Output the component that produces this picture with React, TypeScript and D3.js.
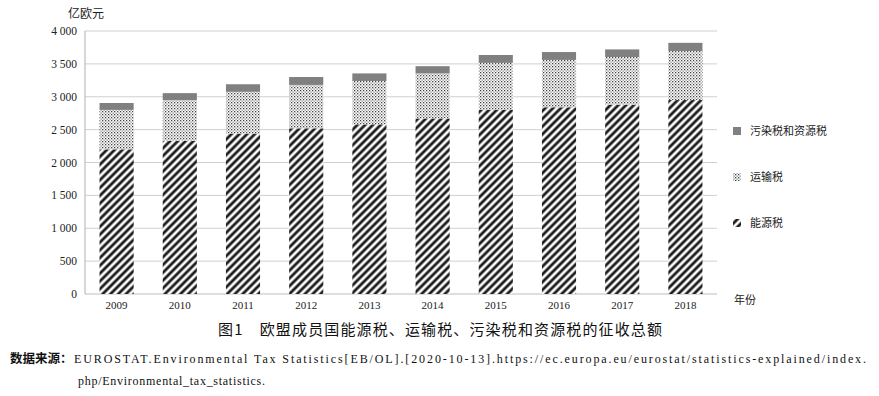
import React from "react";
import * as d3 from "d3";

const years = ["2009","2010","2011","2012","2013","2014","2015","2016","2017","2018"];
const energyTax = [2200, 2330, 2440, 2520, 2580, 2670, 2800, 2840, 2880, 2950];
const transportTax = [600, 620, 635, 660, 660, 685, 715, 720, 725, 745];
const pollutionTax = [105, 105, 115, 120, 115, 110, 120, 120, 115, 125];
const yTicks = [0, 500, 1000, 1500, 2000, 2500, 3000, 3500, 4000];
const seriesNames = ["能源税", "运输税", "污染税和资源税"];

const W = 879, H = 396;
const serif = "'Liberation Serif', 'DejaVu Serif', serif";
const cjk = "'Noto Sans CJK SC', sans-serif";

export default function App() {
  const x = d3.scaleBand<string>().domain(years).range([85, 717]).paddingInner(0.46).paddingOuter(0.23);
  const y = d3.scaleLinear().domain([0, 4000]).range([294, 31]);
  const fmt = (v: number) => (v >= 1000 ? `${Math.floor(v / 1000)} ${String(v % 1000).padStart(3, "0")}` : String(v));
  const rows = years.map((yr, i) => ({ yr, e: energyTax[i], t: transportTax[i], p: pollutionTax[i] }));
  const stack = d3.stack<any>().keys(["e", "t", "p"])(rows);
  const fills = ["url(#hatch)", "url(#dots)", "#808080"];
  const legendY = [223, 177, 131];

  return (
    <svg width={W} height={H} style={{ position: "absolute", left: 0, top: 0, background: "#fff" }}>
      <defs>
        <pattern id="hatch" patternUnits="userSpaceOnUse" width="5.5" height="5.5" patternTransform="rotate(45)">
          <rect width="5.5" height="5.5" fill="#fff" />
          <line x1="0" y1="0" x2="0" y2="5.5" stroke="#1a1a1a" strokeWidth="2.8" />
          <line x1="5.5" y1="0" x2="5.5" y2="5.5" stroke="#1a1a1a" strokeWidth="2.8" />
        </pattern>
        <pattern id="dots" patternUnits="userSpaceOnUse" width="3" height="3">
          <rect width="3" height="3" fill="#fff" />
          <rect x="0" y="0" width="1.3" height="1.3" fill="#444" />
          <rect x="1.5" y="1.5" width="1.3" height="1.3" fill="#888" />
        </pattern>
      </defs>
      <rect width={W} height={H} fill="#fff" />
      <text x={68} y={18} fontFamily={cjk} fontSize={12} fill="#222">亿欧元</text>
      {yTicks.map((t) => (
        <g key={t}>
          {t > 0 && <line x1={85} x2={717} y1={y(t)} y2={y(t)} stroke="#d0d0d0" strokeWidth={1} />}
          <text x={77} y={y(t) + 4} textAnchor="end" fontFamily={serif} fontSize={11.5} fill="#222">{fmt(t)}</text>
        </g>
      ))}
      <line x1={85} x2={85} y1={31} y2={294} stroke="#bdbdbd" strokeWidth={1.2} />
      <line x1={85} x2={717} y1={294} y2={294} stroke="#bdbdbd" strokeWidth={1.2} />
      {stack.map((s, si) => (
        <g key={si}>
          {s.map((d: any, i: number) => (
            <rect key={i} x={x(years[i])} width={x.bandwidth()} y={y(d[1])} height={y(d[0]) - y(d[1])} fill={fills[si]} />
          ))}
        </g>
      ))}
      {years.map((yr) => (
        <text key={yr} x={(x(yr) as number) + x.bandwidth() / 2} y={309} textAnchor="middle" fontFamily={serif} fontSize={11} fill="#222">{yr}</text>
      ))}
      {seriesNames.map((n, i) => (
        <g key={n}>
          <rect x={733} y={legendY[i] - 4} width={8} height={8} fill={fills[i]} />
          <text x={750} y={legendY[i] + 4} fontFamily={cjk} fontSize={11} fill="#222">{n}</text>
        </g>
      ))}
      <text x={734} y={304} fontFamily={cjk} fontSize={11} fill="#222">年份</text>
      <text x={218} y={335} fontFamily={cjk} fontSize={15} fill="#111" textLength={444} lengthAdjust="spacing">图1　欧盟成员国能源税、运输税、污染税和资源税的征收总额</text>
      <text x={10} y={363} fontFamily={cjk} fontSize={12.5} fontWeight="bold" fill="#111">数据来源：</text>
      <text x={74} y={363} fontFamily={serif} fontSize={12} fill="#111" textLength={792} lengthAdjust="spacing">EUROSTAT.Environmental Tax Statistics[EB/OL].[2020-10-13].https://ec.europa.eu/eurostat/statistics-explained/index.</text>
      <text x={78} y={385} fontFamily={serif} fontSize={12} fill="#111" textLength={187} lengthAdjust="spacing">php/Environmental_tax_statistics.</text>
    </svg>
  );
}
